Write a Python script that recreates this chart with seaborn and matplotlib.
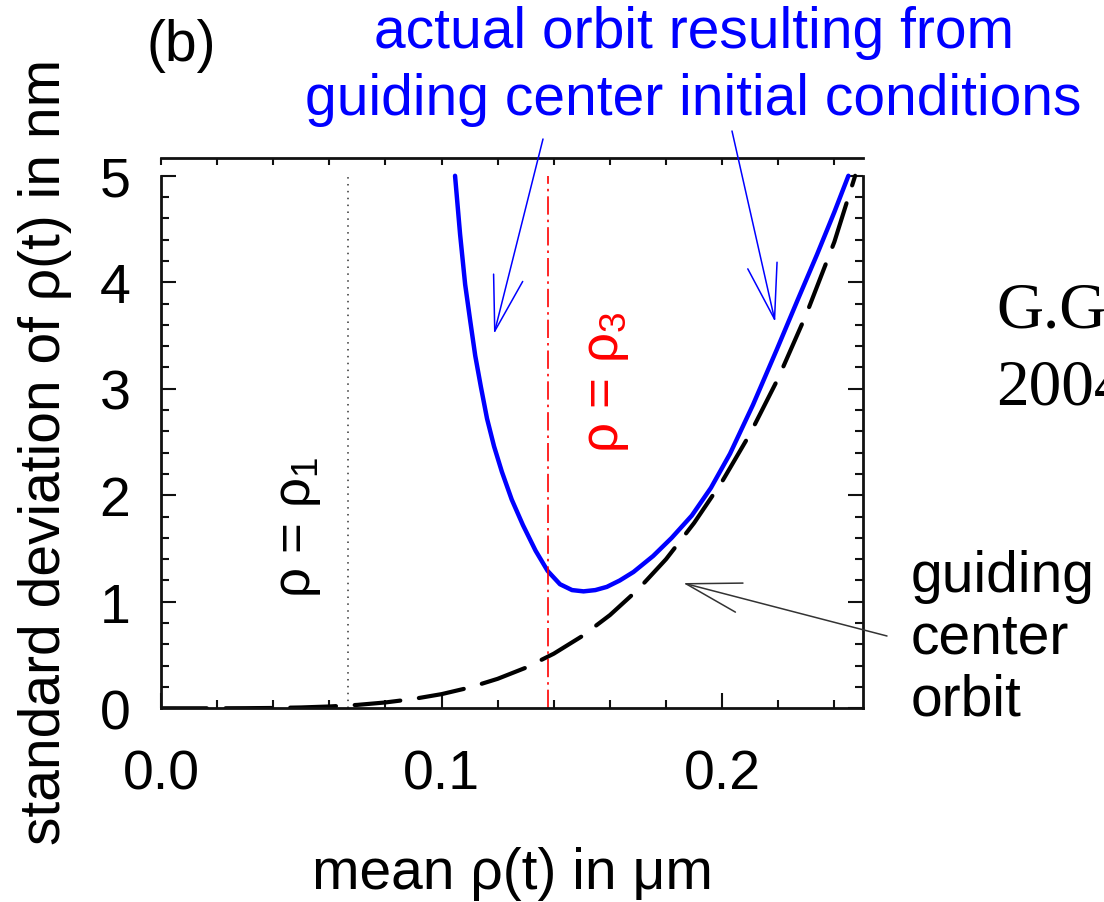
import numpy as np
import pandas as pd
import matplotlib
matplotlib.use("Agg")
import matplotlib.pyplot as plt
from matplotlib.ticker import MultipleLocator, FixedLocator
import seaborn as sns

# ---------------- data ----------------
gc_x = [0.00, 0.01, 0.02, 0.03, 0.04, 0.05, 0.06, 0.07, 0.08, 0.09, 0.10,
        0.11, 0.12, 0.13, 0.14, 0.15, 0.16, 0.17, 0.18, 0.19, 0.20, 0.21,
        0.22, 0.23, 0.24, 0.2474]
gc_y = [0.0, 0.0, 0.0, 0.001, 0.003, 0.008, 0.017, 0.032, 0.055, 0.088, 0.133,
        0.195, 0.277, 0.381, 0.513, 0.676, 0.875, 1.115, 1.40, 1.74, 2.13, 2.58,
        3.10, 3.70, 4.38, 5.0]

orbit_x = [0.1048, 0.1066, 0.1084, 0.1102, 0.1120, 0.1140, 0.1162, 0.1187,
           0.1215, 0.1250, 0.1290, 0.1335, 0.1378, 0.1422, 0.1465, 0.1506,
           0.1548, 0.1589, 0.1635, 0.1684, 0.1754, 0.1820, 0.1892, 0.1960,
           0.2028, 0.2110, 0.2195, 0.2270, 0.2338, 0.2400, 0.2450]
orbit_y = [5.00, 4.45, 3.98, 3.64, 3.31, 3.02, 2.72, 2.46,
           2.22, 1.96, 1.72, 1.48, 1.29, 1.165, 1.11, 1.098,
           1.11, 1.14, 1.20, 1.28, 1.43, 1.60, 1.81, 2.07,
           2.39, 2.85, 3.37, 3.84, 4.26, 4.66, 5.00]

rho1 = 0.0666
rho3 = 0.1381

x_ticks = [0.0, 0.1, 0.2]
x_ticklabels = ["0.0", "0.1", "0.2"]
y_ticks = [0, 1, 2, 3, 4, 5]
y_ticklabels = ["0", "1", "2", "3", "4", "5"]

# ---------------- style ----------------
sns.set_theme(style="ticks")
plt.rcParams["font.family"] = ["Liberation Sans", "DejaVu Sans"]
plt.rcParams["mathtext.fontset"] = "custom"
plt.rcParams["mathtext.rm"] = "Liberation Sans"
plt.rcParams["mathtext.it"] = "Liberation Sans:italic"
plt.rcParams["mathtext.bf"] = "Liberation Sans:bold"
plt.rcParams["text.color"] = "black"
plt.rcParams["axes.labelcolor"] = "black"
plt.rcParams["xtick.color"] = "black"
plt.rcParams["ytick.color"] = "black"
plt.rcParams["axes.edgecolor"] = "black"

W, H = 1104, 903
fig = plt.figure(figsize=(W / 100, H / 100), dpi=100)
fig.patch.set_facecolor("white")


def fx(px):
    return px / W


def fy(py):
    return 1 - py / H


ax = fig.add_axes([fx(161), fy(709.3), (863 - 161) / W, (709.3 - 159) / H])
ax.set_facecolor("white")

gc_df = pd.DataFrame({"x": gc_x, "y": gc_y})
orbit_df = pd.DataFrame({"x": orbit_x, "y": orbit_y})

sns.lineplot(data=gc_df, x="x", y="y", ax=ax, color="black", lw=3.0)
ax.lines[-1].set_dashes((11, 4.5))
ax.lines[-1].set_dash_capstyle("round")
sns.lineplot(data=orbit_df, x="x", y="y", ax=ax, color="#0000ff", lw=3.2)
ax.lines[-1].set_solid_joinstyle("round")

ax.axvline(rho1, ymin=0, ymax=5.0 / 5.167, color="#333333", lw=1.1,
           linestyle=(0, (1, 3.5)))
ax.axvline(rho3, ymin=0, ymax=5.0 / 5.167, color="#ff0000", lw=1.2,
           linestyle=(0, (11, 3, 1.5, 3)))

ax.set_xlim(0, 0.2502)
ax.set_ylim(0, 5.167)

ax.xaxis.set_major_locator(FixedLocator(x_ticks))
ax.set_xticklabels(x_ticklabels)
ax.xaxis.set_minor_locator(MultipleLocator(0.02))
ax.yaxis.set_major_locator(FixedLocator(y_ticks))
ax.set_yticklabels(y_ticklabels)
ax.yaxis.set_minor_locator(MultipleLocator(0.2))

for s in ["left", "right", "bottom"]:
    ax.spines[s].set_linewidth(2.0)
    ax.spines[s].set_color("#111111")
ax.spines["left"].set_bounds(0, 5)
ax.spines["right"].set_bounds(0, 5)
ax.spines["top"].set_visible(False)

ax.tick_params(axis="both", which="both", direction="in", colors="#111111",
               labelcolor="black", labelsize=40)
ax.tick_params(axis="both", which="major", length=11, width=1.5)
ax.tick_params(axis="both", which="minor", length=6, width=1.5)
ax.tick_params(axis="y", which="both", left=True, right=True, pad=22)
ax.tick_params(axis="x", which="both", bottom=True, top=False, pad=29)

sec = ax.secondary_xaxis("top")
sec.xaxis.set_major_locator(MultipleLocator(0.02))
sec.tick_params(axis="x", which="both", direction="in", length=5, width=1.5,
                labeltop=False, colors="#111111")
sec.spines["top"].set_linewidth(2.0)
sec.spines["top"].set_color("#111111")

ax.set_xlabel("mean ρ(t) in μm", fontsize=41, color="black")
ax.xaxis.set_label_coords(0.5, -0.2502)
ax.set_ylabel("standard deviation of ρ(t) in nm", fontsize=41, color="black")
ax.yaxis.set_label_coords(-0.1268, 0.4676)

# ---------------- annotations ----------------
fig.text(fx(181), fy(46), "(b)", ha="center", va="center", fontsize=41,
         color="black")
fig.text(fx(693.5), fy(48), "actual orbit resulting from", ha="center",
         va="baseline", fontsize=41, color="#0000ff")
fig.text(fx(693.5), fy(115), "guiding center initial conditions", ha="center",
         va="baseline", fontsize=41, color="#0000ff")

for txt, base in [("guiding", 592), ("center", 654), ("orbit", 716)]:
    fig.text(fx(911), fy(base), txt, ha="left", va="baseline", fontsize=41,
             color="black")

fig.text(fx(996), fy(328), "G.G", ha="left", va="baseline", fontsize=47,
         family="Liberation Serif", color="black")
fig.text(fx(996), fy(405), "2004", ha="left", va="baseline", fontsize=47,
         family="Liberation Serif", color="black")

fig.text(fx(298), fy(527), "ρ = ρ$_1$", rotation=90, ha="center", va="center",
         fontsize=38, color="black")
fig.text(fx(606), fy(382), "ρ = ρ$_3$", rotation=90, ha="center", va="center",
         fontsize=38, color="#ff0000")

head = "->, head_length=3.96, head_width=1.08"
ax.annotate("", xy=(0.1187, 3.515), xycoords="data",
            xytext=(543, H - 140), textcoords="figure pixels",
            arrowprops=dict(arrowstyle=head, color="#0000ff", lw=1.1,
                            mutation_scale=10, shrinkA=0, shrinkB=0),
            annotation_clip=False)
ax.annotate("", xy=(0.2189, 3.627), xycoords="data",
            xytext=(732, H - 132), textcoords="figure pixels",
            arrowprops=dict(arrowstyle=head, color="#0000ff", lw=1.1,
                            mutation_scale=10, shrinkA=0, shrinkB=0),
            annotation_clip=False)
ax.annotate("", xy=(0.1861, 1.176), xycoords="data",
            xytext=(887, H - 637), textcoords="figure pixels",
            arrowprops=dict(arrowstyle=head, color="#333333", lw=1.1,
                            mutation_scale=10, shrinkA=0, shrinkB=0),
            annotation_clip=False)

fig.savefig("out.png", dpi=100, facecolor="white")
